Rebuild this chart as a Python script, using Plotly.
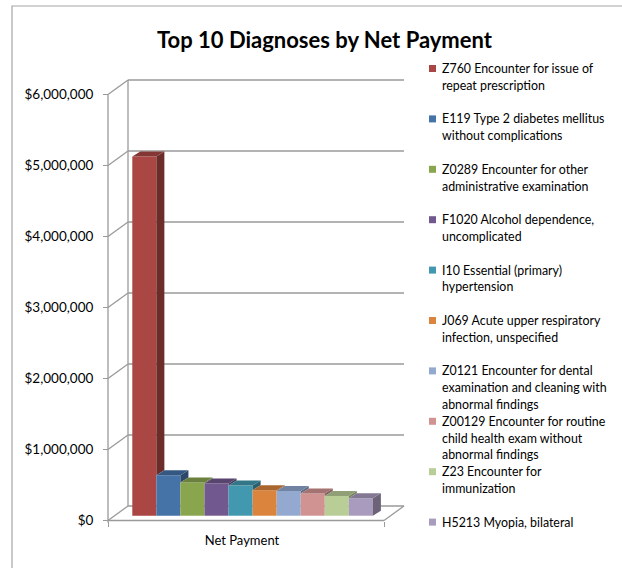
import textwrap
import plotly.graph_objects as go

# ---- data -------------------------------------------------------------
diagnoses = [
    "Z760 Encounter for issue of repeat prescription",
    "E119 Type 2 diabetes mellitus without complications",
    "Z0289 Encounter for other administrative examination",
    "F1020 Alcohol dependence, uncomplicated",
    "I10 Essential (primary) hypertension",
    "J069 Acute upper respiratory infection, unspecified",
    "Z0121 Encounter for dental examination and cleaning with abnormal findings",
    "Z00129 Encounter for routine child health exam without abnormal findings",
    "Z23 Encounter for immunization",
    "H5213 Myopia, bilateral",
]
net_payment = [5060000, 570000, 468000, 454000, 425000, 359000, 349000, 313000, 279000, 246000]
category = "Net Payment"
y_ticks = [0, 1000000, 2000000, 3000000, 4000000, 5000000, 6000000]
y_tick_labels = ["${:,}".format(v) for v in y_ticks]
title = "Top 10 Diagnoses by Net Payment"

# ---- style ------------------------------------------------------------
colors = ["#AA4643", "#4572A7", "#89A54E", "#71588F", "#4198AF",
          "#DB843D", "#93A9CF", "#D19392", "#B9CD96", "#A99BBD"]
FONT = "Lato"
TEXT = "#000000"
GRID = "#9a9a9a"

W, H = 622, 568
FRONT_LEFT = 108          # px, left end of the floor's front edge
CAT_WIDTH = 276           # px, length of the floor's front edge
ZERO_Y = 520.5            # px from top, $0 on the front plane
PX_PER_DOLLAR = 71 / 1e6
WALL_DX, WALL_DY = 20, 14.5   # projected depth of floor / side wall
BAR_PLANE = 0.33              # depth fraction where the bar fronts sit
BAR_DX, BAR_DY = 8, 5         # projected thickness of each column
BAR_PX = 24.06                # column width, px


def ux(px):
    return px / CAT_WIDTH


def uy(px):
    return px / PX_PER_DOLLAR


def shade(hex_color, k):
    r, g, b = (int(hex_color[i:i + 2], 16) for i in (1, 3, 5))
    return "#%02x%02x%02x" % (int(r * k), int(g * k), int(b * k))


def px_x(px):
    return px / W


def px_y(py):
    return 1 - py / H


x_range = [-0.5 - ux(FRONT_LEFT), -0.5 + ux(W - FRONT_LEFT)]
y_range = [-uy(H - ZERO_Y), uy(ZERO_Y)]

fig = go.Figure()

# ---- walls, floor and grid (drawn beneath the columns) -----------------
wdx, wdy = ux(WALL_DX), uy(WALL_DY)
line = dict(color=GRID, width=1.3)
shapes = []
for v in y_ticks:
    shapes.append(dict(type="line", xref="x", yref="y", layer="below", line=line,
                       x0=-0.5, y0=v, x1=-0.5 + wdx, y1=v + wdy))
    shapes.append(dict(type="line", xref="x", yref="y", layer="below", line=line,
                       x0=-0.5 + wdx, y0=v + wdy, x1=0.5 + wdx, y1=v + wdy))
shapes.append(dict(type="line", xref="x", yref="y", layer="below", line=line,
                   x0=-0.5 + wdx, y0=wdy, x1=-0.5 + wdx, y1=max(y_ticks) + wdy))
shapes.append(dict(type="line", xref="x", yref="y", layer="below", line=line,
                   x0=-0.5, y0=-uy(2), x1=-0.5, y1=max(y_ticks)))
shapes.append(dict(type="line", xref="x", yref="y", layer="below", line=line,
                   x0=-0.5, y0=0, x1=0.5, y1=0))
shapes.append(dict(type="line", xref="x", yref="y", layer="below", line=line,
                   x0=0.5, y0=0, x1=0.5 + wdx, y1=wdy))

# ---- columns ------------------------------------------------------------
n = len(net_payment)
bw = ux(BAR_PX)
bx0 = ux(WALL_DX * BAR_PLANE)
by0 = uy(WALL_DY * BAR_PLANE)
ddx, ddy = ux(BAR_DX), uy(BAR_DY)
left0 = -n * bw / 2 + bx0

for i, (name, v, c) in enumerate(zip(diagnoses, net_payment, colors)):
    xl = left0 + i * bw
    fig.add_trace(go.Bar(
        x=[xl + bw / 2], y=[v], base=[by0], width=[bw], name=name,
        marker=dict(color=c, line=dict(width=0)), showlegend=False,
        hovertemplate=name + "<br>$%{y:,.0f}<extra></extra>"))

for i, (v, c) in enumerate(zip(net_payment, colors)):
    xl = left0 + i * bw
    xr = xl + bw
    top = by0 + v
    nxt = net_payment[i + 1] if i + 1 < n else 0
    low = by0 + min(v, nxt)
    if low < top:
        fig.add_trace(go.Scatter(
            x=[xr, xr, xr + ddx, xr + ddx, xr],
            y=[low, top, top + ddy, low + ddy, low],
            mode="lines", fill="toself", fillcolor=shade(c, 0.64),
            line=dict(width=0, color=shade(c, 0.64)),
            hoverinfo="skip", showlegend=False))
    fig.add_trace(go.Scatter(
        x=[xl, xr, xr + ddx, xl + ddx, xl],
        y=[top, top, top + ddy, top + ddy, top],
        mode="lines", fill="toself", fillcolor=shade(c, 0.78),
        line=dict(width=0, color=shade(c, 0.78)),
        hoverinfo="skip", showlegend=False))

# ---- legend (square swatch + wrapped label) ------------------------------
annotations = []
LEG_TOP, LEG_STEP, LEG_LINE = 68.5, 50.4, 16.8
for i, (name, c) in enumerate(zip(diagnoses, colors)):
    cy = LEG_TOP + i * LEG_STEP
    shapes.append(dict(type="rect", xref="paper", yref="paper", layer="above",
                       x0=px_x(429), x1=px_x(436), y0=px_y(cy + 3.5), y1=px_y(cy - 3.5),
                       fillcolor=c, line=dict(width=0)))
    for j, part in enumerate(textwrap.wrap(name, 29)):
        annotations.append(dict(
            text=part, xref="paper", yref="paper", x=px_x(440), y=px_y(cy + j * LEG_LINE),
            xanchor="left", yanchor="middle", showarrow=False,
            font=dict(family=FONT, size=12.4, color=TEXT)))

# outer chart border
shapes.append(dict(type="rect", xref="paper", yref="paper", layer="above",
                   x0=px_x(12), y0=px_y(6), x1=px_x(W + 20), y1=px_y(H + 20),
                   line=dict(color="#a6a6a6", width=1.2), fillcolor="rgba(0,0,0,0)"))

fig.update_layout(
    width=W, height=H, autosize=False,
    margin=dict(l=0, r=0, t=0, b=0),
    paper_bgcolor="white", plot_bgcolor="rgba(0,0,0,0)",
    barmode="overlay", showlegend=False,
    font=dict(family=FONT, size=13, color=TEXT),
    title=dict(text="<b>" + title + "</b>", x=px_x(324.5), y=px_y(40),
               xanchor="center", yanchor="middle",
               font=dict(family=FONT, size=22, color=TEXT)),
    shapes=shapes, annotations=annotations,
    xaxis=dict(domain=[0, 1], range=x_range, anchor="free", position=px_y(ZERO_Y),
               showgrid=False, zeroline=False, showline=False,
               tickmode="array", tickvals=[0], ticktext=[category], ticks="",
               ticklabelshift=-4, ticklabelstandoff=10,
               tickfont=dict(family=FONT, size=13, color=TEXT),
               minor=dict(tickmode="array", tickvals=[-0.5, 0.5], ticks="outside",
                          ticklen=5, tickcolor=GRID, tickwidth=1.3),
               fixedrange=True),
    yaxis=dict(domain=[0, 1], range=y_range, anchor="free", position=px_x(FRONT_LEFT),
               showgrid=False, zeroline=False, showline=False,
               tickmode="array", tickvals=y_ticks, ticktext=y_tick_labels,
               ticks="outside", ticklen=5,
               tickcolor=GRID, tickwidth=1.3,
               ticklabelstandoff=7,
               tickfont=dict(family=FONT, size=13.5, color=TEXT),
               fixedrange=True),
)

fig.write_html("out.html")
